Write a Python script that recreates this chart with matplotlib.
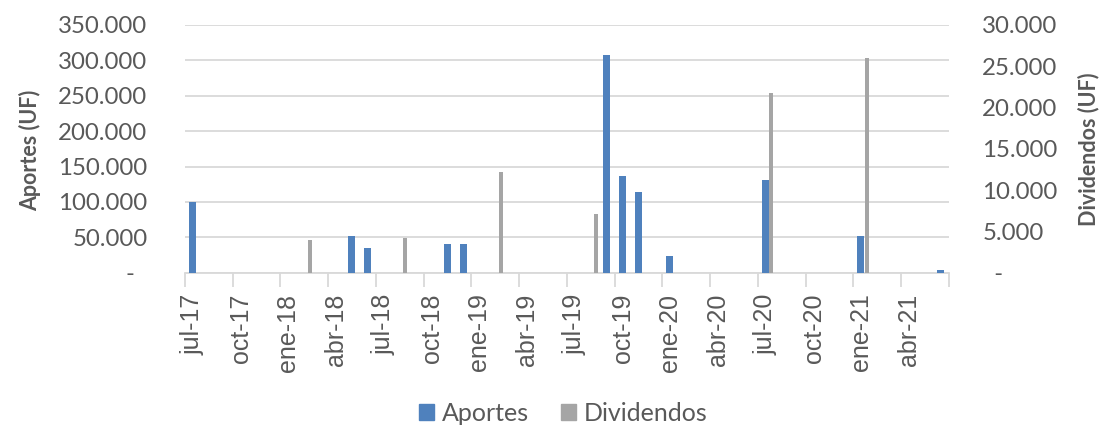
import matplotlib
matplotlib.use("Agg")
import matplotlib.pyplot as plt
from matplotlib.ticker import FuncFormatter, FixedLocator
from matplotlib.patches import Patch

plt.rcParams['font.family'] = ['Lato', 'DejaVu Sans']

# Month categories (jul-17 .. jun-21)
months = ["jul-17", "ago-17", "sep-17", "oct-17", "nov-17", "dic-17",
          "ene-18", "feb-18", "mar-18", "abr-18", "may-18", "jun-18",
          "jul-18", "ago-18", "sep-18", "oct-18", "nov-18", "dic-18",
          "ene-19", "feb-19", "mar-19", "abr-19", "may-19", "jun-19",
          "jul-19", "ago-19", "sep-19", "oct-19", "nov-19", "dic-19",
          "ene-20", "feb-20", "mar-20", "abr-20", "may-20", "jun-20",
          "jul-20", "ago-20", "sep-20", "oct-20", "nov-20", "dic-20",
          "ene-21", "feb-21", "mar-21", "abr-21", "may-21", "jun-21"]

# Aportes (UF), left axis
aportes_months = ["jul-17", "may-18", "jun-18", "nov-18", "dic-18", "sep-19",
                  "oct-19", "nov-19", "ene-20", "jul-20", "ene-21", "jun-21"]
aportes_values = [100500, 52000, 35000, 40000, 40000, 308000,
                  136000, 114000, 23000, 130500, 52000, 3400]

# Dividendos (UF), right axis
dividendos_months = ["feb-18", "ago-18", "feb-19", "ago-19", "jul-20", "ene-21"]
dividendos_values = [4000, 4200, 12200, 7100, 21800, 26000]

# Quarterly tick labels
tick_labels = ["jul-17", "oct-17", "ene-18", "abr-18", "jul-18", "oct-18",
               "ene-19", "abr-19", "jul-19", "oct-19", "ene-20", "abr-20",
               "jul-20", "oct-20", "ene-21", "abr-21"]

BLUE = "#4F81BD"
GRAY = "#A5A5A5"
TXT = "#595959"
GRID = "#D9D9D9"

fig = plt.figure(figsize=(11.09, 4.28), dpi=100)
ax = fig.add_axes([0.1668, 0.3628, 0.6889, 0.5788])
ax2 = ax.twinx()

idx = {m: i for i, m in enumerate(months)}
ax.bar([idx[m] + 0.47 for m in aportes_months], aportes_values, width=0.44,
       color=BLUE, zorder=3)
ax2.bar([idx[m] + 0.83 for m in dividendos_months], dividendos_values, width=0.26,
        color=GRAY, zorder=3)

ax.set_xlim(0, len(months))
ax.set_ylim(0, 350000)
ax2.set_ylim(0, 30000)
ax.set_yticks(range(0, 350001, 50000))
ax2.set_yticks(range(0, 30001, 5000))

def fmt(v, pos):
    if v == 0:
        return "-  "
    return f"{v:,.0f}".replace(",", ".")

def fmt2(v, pos):
    if v == 0:
        return "  -"
    return f"{v:,.0f}".replace(",", ".")

ax.yaxis.set_major_formatter(FuncFormatter(fmt))
ax2.yaxis.set_major_formatter(FuncFormatter(fmt2))

ax.grid(axis='y', color=GRID, linewidth=1.3, zorder=0)
ax.set_axisbelow(True)

for a in (ax, ax2):
    for s in ("top", "left", "right"):
        a.spines[s].set_visible(False)
    a.spines["bottom"].set_color(GRID)
    a.spines["bottom"].set_linewidth(1.3)
ax2.spines["bottom"].set_visible(False)

ax.tick_params(axis='y', length=0, pad=27, labelsize=17.3, labelcolor=TXT)
ax2.tick_params(axis='y', length=0, pad=24, labelsize=17.3, labelcolor=TXT)

# x ticks: marks every quarter, labels centred on month slot
tick_pos = [idx[t] for t in tick_labels]
ax.xaxis.set_minor_locator(FixedLocator(list(range(0, len(months) + 1, 3))))
ax.xaxis.set_major_locator(FixedLocator([p + 0.5 for p in tick_pos]))
ax.set_xticklabels(tick_labels, rotation=90)
ax.tick_params(axis='x', which='major', length=0, pad=15, labelsize=18, labelcolor=TXT)
ax.tick_params(axis='x', which='minor', length=10, width=1.3, color=GRID)
for lbl in ax.get_xticklabels():
    lbl.set_fontfamily(['Liberation Sans', 'DejaVu Sans'])

fig.text(30 / 1109, 1 - 150 / 428, "Aportes (UF)", rotation=90, ha='center', va='center',
         fontsize=15.5, fontweight='bold', color=TXT)
fig.text(1089 / 1109, 1 - 149 / 428, "Dividendos (UF)", rotation=90, ha='center', va='center',
         fontsize=15.5, fontweight='bold', color=TXT)

handles = [Patch(color=BLUE, label="Aportes"), Patch(color=GRAY, label="Dividendos")]
fig.legend(handles=handles, loc='center', bbox_to_anchor=(0.508, 0.035), ncol=2,
           frameon=False, fontsize=18, labelcolor=TXT, handlelength=0.6,
           handleheight=0.6, handletextpad=0.3, columnspacing=1.3)

fig.savefig("out.png", dpi=100)
